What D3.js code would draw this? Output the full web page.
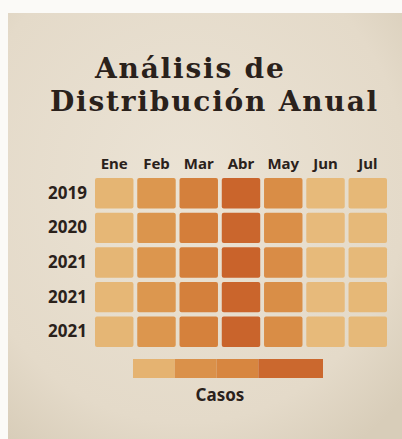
<!DOCTYPE html>
<html lang="es">
<head>
  <meta charset="UTF-8">
  <title>Análisis de Distribución Anual</title>
  <script src="https://d3js.org/d3.v7.min.js"></script>
  <style>
    html, body { margin: 0; padding: 0; background: #fbfaf7; }
    svg { display: block; }
    .lbl { font-family: "Noto Sans", "Open Sans", sans-serif; font-weight: 700; fill: #2a211b; }
  </style>
</head>
<body>
  <div id="chart"></div>
  <script>
    // datos
    const months = ["Ene", "Feb", "Mar", "Abr", "May", "Jun", "Jul"];
    const years = ["2019", "2020", "2021", "2021", "2021"];
    const cases = [
      [14, 46, 70, 96, 56, 9, 11],
      [12, 48, 72, 95, 54, 8, 10],
      [13, 47, 71, 98, 57, 9, 10],
      [12, 46, 70, 96, 55, 8, 11],
      [13, 47, 69, 97, 56, 9, 10]
    ];
    const legendStops = [0, 22, 44, 66, 100];
    const legendColors = [16, 52, 64, 93];

    const W = 402, H = 439;

    const svg = d3.select("#chart").append("svg")
      .attr("width", W)
      .attr("height", H);

    const defs = svg.append("defs");
    const grad = defs.append("radialGradient")
      .attr("id", "paper")
      .attr("cx", "45%").attr("cy", "40%").attr("r", "75%");
    grad.append("stop").attr("offset", "0%").attr("stop-color", "#ebe3d5");
    grad.append("stop").attr("offset", "75%").attr("stop-color", "#e4dac9");
    grad.append("stop").attr("offset", "100%").attr("stop-color", "#d8cdb9");

    svg.append("rect")
      .attr("x", 8).attr("y", 13)
      .attr("width", W - 8).attr("height", H - 13)
      .attr("fill", "url(#paper)");

    // titulo
    const title = svg.append("g")
      .style("font-family", "'DejaVu Serif', serif")
      .style("font-weight", "bold")
      .style("font-size", "28px")
      .style("letter-spacing", "1.8px")
      .attr("fill", "#2a211b");
    title.append("text").attr("x", 95).attr("y", 78).text("Análisis de");
    title.append("text").attr("x", 50).attr("y", 111).text("Distribución Anual");

    const color = d3.scaleLinear()
      .domain([0, 33, 66, 100])
      .range(["#e9c286", "#e0a35a", "#d6843e", "#c8612a"])
      .clamp(true);

    const x = d3.scaleBand()
      .domain(months)
      .range([95, 387])
      .paddingInner(0.09);

    const y = d3.scaleBand()
      .domain(d3.range(years.length))
      .range([178, 347])
      .paddingInner(0.12);

    // celdas
    const cells = [];
    cases.forEach((row, i) => row.forEach((v, j) => cells.push({ row: i, month: months[j], value: v })));

    svg.append("g")
      .selectAll("rect")
      .data(cells)
      .join("rect")
      .attr("x", d => x(d.month))
      .attr("y", d => y(d.row))
      .attr("width", x.bandwidth())
      .attr("height", y.bandwidth())
      .attr("rx", 2)
      .attr("fill", d => color(d.value));

    // ejes
    const xAxis = svg.append("g")
      .attr("transform", "translate(0,172)")
      .call(d3.axisTop(x).tickSize(0).tickPadding(3));
    xAxis.select(".domain").remove();
    xAxis.selectAll("text")
      .attr("class", "lbl")
      .style("font-size", "15px");

    const yAxis = svg.append("g")
      .attr("transform", "translate(87,0)")
      .call(d3.axisLeft(y).tickSize(0).tickPadding(0).tickFormat(i => years[i]));
    yAxis.select(".domain").remove();
    yAxis.selectAll("text")
      .attr("class", "lbl")
      .style("font-size", "17px");

    // leyenda
    const lx = d3.scaleLinear()
      .domain([0, 100])
      .range([133, 323]);

    const legend = svg.append("g");
    legend.selectAll("rect")
      .data(legendColors)
      .join("rect")
      .attr("x", (d, i) => lx(legendStops[i]))
      .attr("y", 359)
      .attr("width", (d, i) => lx(legendStops[i + 1]) - lx(legendStops[i]))
      .attr("height", 19)
      .attr("fill", d => color(d));

    legend.append("text")
      .attr("class", "lbl")
      .attr("x", 220)
      .attr("y", 401)
      .attr("text-anchor", "middle")
      .style("font-size", "17px")
      .text("Casos");
  </script>
</body>
</html>
